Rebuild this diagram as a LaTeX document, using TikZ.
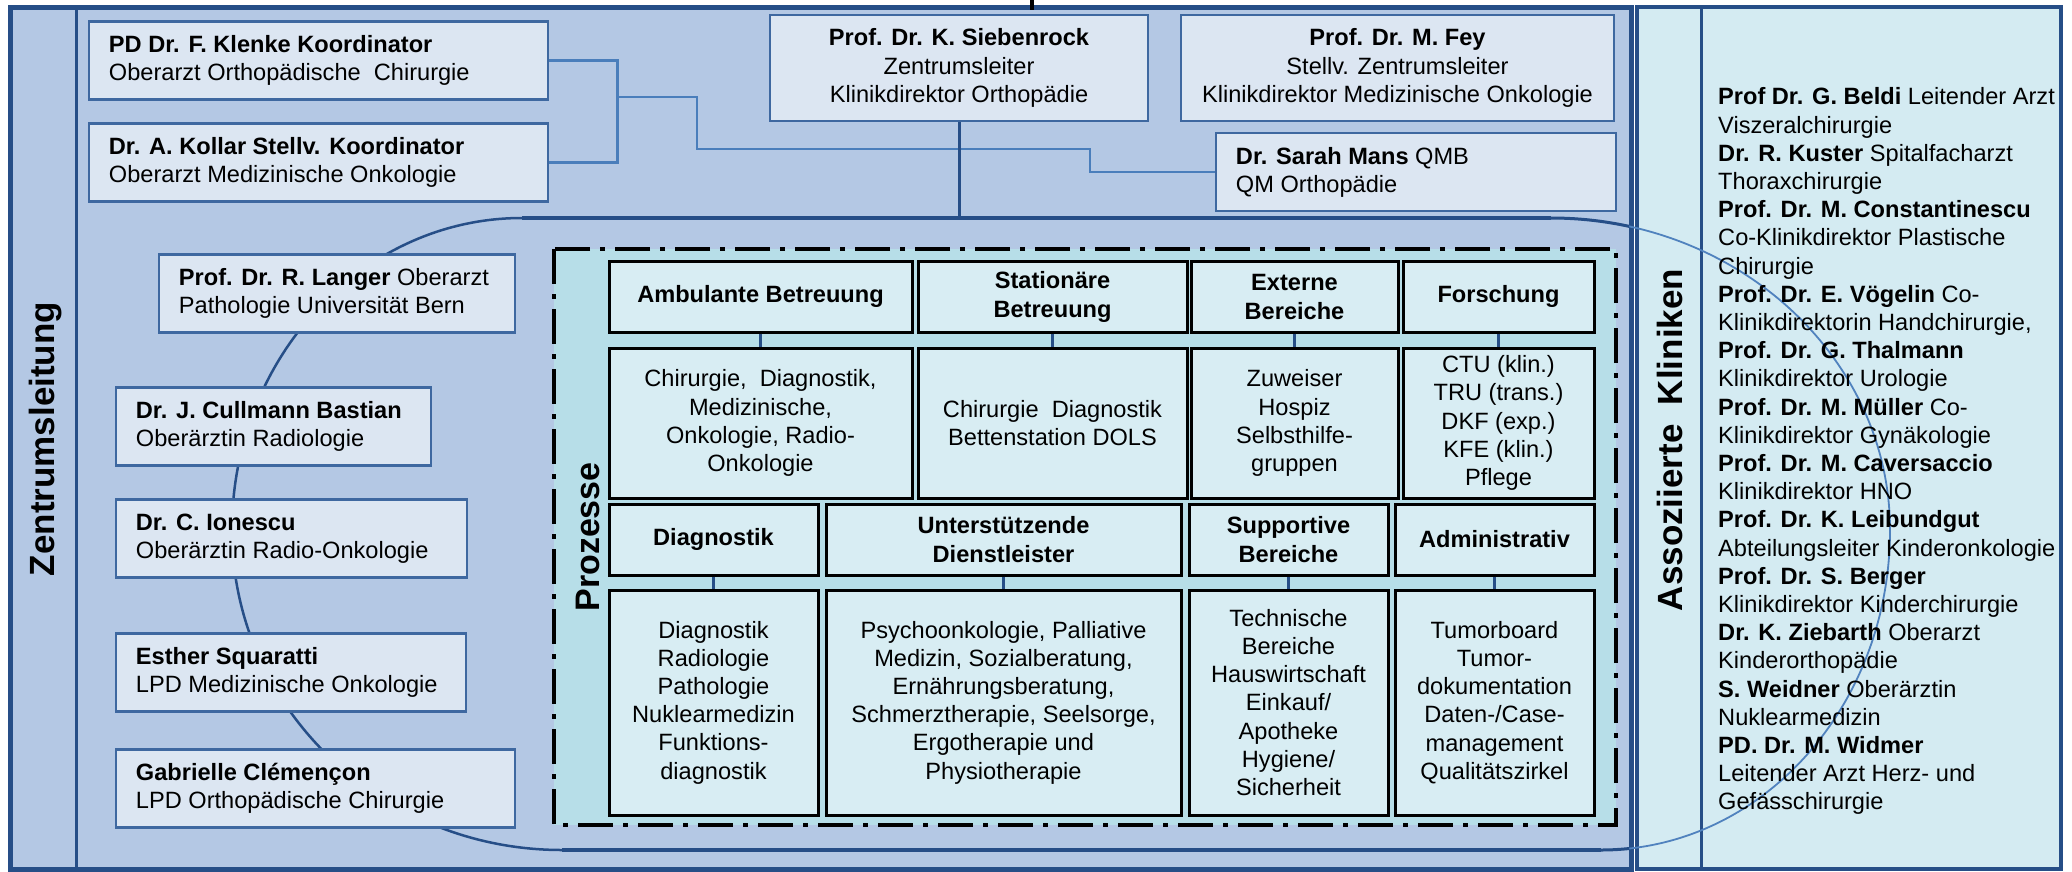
\documentclass[tikz,border=0pt]{standalone}
\usepackage{fontspec}
\setmainfont{Liberation Sans}
\definecolor{panelL}{RGB}{180,200,228}
\definecolor{panelR}{RGB}{212,235,242}
\definecolor{dkblue}{RGB}{38,78,135}
\definecolor{boxfill}{RGB}{220,230,242}
\definecolor{boxline}{RGB}{62,104,160}
\definecolor{connblue}{RGB}{74,126,187}
\definecolor{procfill}{RGB}{183,222,232}
\definecolor{gridfill}{RGB}{216,237,243}
\definecolor{arcblue}{RGB}{80,130,190}
\begin{document}
\begin{tikzpicture}[x=1pt,y=-1pt,
  every node/.style={font=\fontsize{23.6}{28.2}\selectfont},
  pbox/.style={draw=boxline, fill=boxfill, line width=2.5, inner sep=0, minimum height=78},
  ptext/.style={anchor=west, align=left, inner sep=0},
  cbox/.style={draw=boxline, fill=boxfill, line width=2.5, inner sep=0, align=center, minimum height=106},
  gbox/.style={draw=black, fill=gridfill, line width=3, inner sep=0, align=center},
  hdr/.style={gbox, minimum height=71, font=\fontsize{23.6}{29}\selectfont\bfseries},
  conn/.style={draw=connblue, line width=2.5},
  tickline/.style={draw=dkblue, line width=3},
  vtitle/.style={rotate=90, font=\fontsize{35}{40}\selectfont\bfseries, inner sep=0}
]
\useasboundingbox (0,0) rectangle (2072,871);
\fill[white] (0,0) rectangle (2072,871);
% panels
\draw[dkblue, line width=5, fill=panelL] (10.5,7) rectangle (1631,869);
\draw[dkblue, line width=4, fill=panelR] (1637,7) rectangle (2061,869);
\draw[dkblue, line width=3] (76,7) -- (76,869);
\draw[dkblue, line width=3] (1701,7) -- (1701,869);
% top tick
\coordinate (tkA) at (1032,0);
\coordinate (tkB) at (1032,10);
\draw[black, line width=4] (tkA) -- (tkB);
% process frame fill
\fill[procfill] (554,249) rectangle (1616,825);
% big rounded shape
\draw[dkblue, line width=3.5] (1551,218) -- (522,218);
\draw[dkblue, line width=2.5] (522,218) .. controls (362,218) and (232,358) .. (232,530)
   .. controls (232,707) and (380,850) .. (562,850);
\draw[dkblue, line width=3.5] (562,850) -- (1601,850);
\draw[arcblue, line width=1.8] (1551,218) .. controls (1738,218) and (1890,358) .. (1890,530)
   .. controls (1890,707) and (1761,850) .. (1601,850);
\begin{scope}
\clip (0,0) rectangle (1629,871);
\draw[dkblue, line width=3] (1551,218) .. controls (1738,218) and (1890,358) .. (1890,530)
   .. controls (1890,707) and (1761,850) .. (1601,850);
\end{scope}
\coordinate (topline) at (965,218);
% process frame border
\draw[black, line width=4.5, dash pattern=on 35 off 10 on 5 off 10] (554,249) rectangle (1616,825);

% titles
\node[vtitle] (zl) at (46,439) {Zentrumsleitung};
\node[vtitle] (ak) at (1670,440) {Assoziierte\ \ Kliniken};
\node[vtitle, font=\fontsize{34}{40}\selectfont\bfseries] (pz) at (588,537) {Prozesse};

% left panel boxes
\node[pbox, minimum width=459] (klenke) at (318.5,60.5) {};
\node[ptext] (klenkeT) at ([xshift=21]klenke.west) {\textbf{PD Dr. F. Klenke Koordinator}\\Oberarzt Orthopädische~ Chirurgie};
\node[pbox, minimum width=459] (kollar) at (318.5,162.5) {};
\node[ptext] (kollarT) at ([xshift=21]kollar.west) {\textbf{Dr. A. Kollar Stellv. Koordinator}\\Oberarzt Medizinische Onkologie};
\node[cbox, minimum width=378] (sieb) at (959,68) {\textbf{Prof. Dr. K. Siebenrock}\\Zentrumsleiter\\Klinikdirektor Orthopädie};
\node[cbox, minimum width=433] (fey) at (1397.5,68) {\textbf{Prof. Dr. M. Fey}\\Stellv. Zentrumsleiter\\Klinikdirektor Medizinische Onkologie};
\node[pbox, minimum width=400] (mans) at (1416,172) {};
\node[ptext] (mansT) at ([xshift=21]mans.west) {\textbf{Dr. Sarah Mans} QMB\\QM Orthopädie};
\node[pbox, minimum width=356] (langer) at (337,293.5) {};
\node[ptext] (langerT) at ([xshift=21]langer.west) {\textbf{Prof. Dr. R. Langer} Oberarzt\\Pathologie Universität Bern};
\node[pbox, minimum width=315] (cullmann) at (273.5,426.5) {};
\node[ptext] (cullmannT) at ([xshift=21]cullmann.west) {\textbf{Dr. J. Cullmann Bastian}\\Oberärztin Radiologie};
\node[pbox, minimum width=351] (ionescu) at (291.5,538.5) {};
\node[ptext] (ionescuT) at ([xshift=21]ionescu.west) {\textbf{Dr. C. Ionescu}\\Oberärztin Radio-Onkologie};
\node[pbox, minimum width=350] (squaratti) at (291,672.5) {};
\node[ptext] (squarattiT) at ([xshift=21]squaratti.west) {\textbf{Esther Squaratti}\\LPD Medizinische Onkologie};
\node[pbox, minimum width=399] (clem) at (315.5,788.5) {};
\node[ptext] (clemT) at ([xshift=21]clem.west) {\textbf{Gabrielle Clémençon}\\LPD Orthopädische Chirurgie};

% connectors
\draw[conn] (klenke.east) -- ++(68,0) |- (kollar.east);
\coordinate (j1) at (616,97);
\draw[conn] (j1) -- (697,97) -- (697,149) -- (1090,149) |- (mans.west);
\draw[dkblue, line width=3] (sieb.south) -- (sieb.south |- topline);

% process grid
\node[hdr, minimum width=303] (h1) at (760.5,296.5) {Ambulante Betreuung};
\node[hdr, minimum width=269] (h2) at (1052.5,296.5) {Stationäre\\Betreuung};
\node[hdr, minimum width=207] (h3) at (1294.5,296.5) {Externe\\Bereiche};
\node[hdr, minimum width=191] (h4) at (1498.5,296.5) {Forschung};
\node[gbox, minimum width=303, minimum height=150] (c1) at (760.5,423) {Chirurgie,~ Diagnostik,\\Medizinische,\\Onkologie, Radio-\\Onkologie};
\node[gbox, minimum width=269, minimum height=150] (c2) at (1052.5,423) {Chirurgie~ Diagnostik\\Bettenstation DOLS};
\node[gbox, minimum width=207, minimum height=150] (c3) at (1294.5,423) {Zuweiser\\Hospiz\\Selbsthilfe-\\gruppen};
\node[gbox, minimum width=191, minimum height=150] (c4) at (1498.5,423) {CTU (klin.)\\TRU (trans.)\\DKF (exp.)\\KFE (klin.)\\Pflege};
\node[hdr, minimum width=209] (h5) at (713.5,539.5) {Diagnostik};
\node[hdr, minimum width=355] (h6) at (1003.5,539.5) {Unterstützende\\Dienstleister};
\node[hdr, minimum width=199] (h7) at (1288.5,539.5) {Supportive\\Bereiche};
\node[hdr, minimum width=199] (h8) at (1494.5,539.5) {Administrativ};
\node[gbox, minimum width=209, minimum height=225] (c5) at (713.5,702.5) {Diagnostik\\Radiologie\\Pathologie\\Nuklearmedizin\\Funktions-\\diagnostik};
\node[gbox, minimum width=355, minimum height=225] (c6) at (1003.5,702.5) {Psychoonkologie, Palliative\\Medizin, Sozialberatung,\\Ernährungsberatung,\\Schmerztherapie, Seelsorge,\\Ergotherapie und\\Physiotherapie};
\node[gbox, minimum width=199, minimum height=225] (c7) at (1288.5,702.5) {Technische\\Bereiche\\Hauswirtschaft\\Einkauf/\\Apotheke\\Hygiene/\\Sicherheit};
\node[gbox, minimum width=199, minimum height=225] (c8) at (1494.5,702.5) {Tumorboard\\Tumor-\\dokumentation\\Daten-/Case-\\management\\Qualitätszirkel};
\foreach \i in {1,...,8} {\draw[tickline] (h\i.south) -- (c\i.north);}

% right list
\node[anchor=north west, align=left, inner sep=0] (assoc) at (1718,87.5) {%
\textbf{Prof Dr. G. Beldi} Leitender Arzt\\
Viszeralchirurgie\\
\textbf{Dr. R. Kuster} Spitalfacharzt\\
Thoraxchirurgie\\
\textbf{Prof. Dr. M. Constantinescu}\\
Co-Klinikdirektor Plastische\\
Chirurgie\\
\textbf{Prof. Dr. E. Vögelin} Co-\\
Klinikdirektorin Handchirurgie,\\
\textbf{Prof. Dr. G. Thalmann}\\
Klinikdirektor Urologie\\
\textbf{Prof. Dr. M. Müller} Co-\\
Klinikdirektor Gynäkologie\\
\textbf{Prof. Dr. M. Caversaccio}\\
Klinikdirektor HNO\\
\textbf{Prof. Dr. K. Leibundgut}\\
Abteilungsleiter Kinderonkologie\\
\textbf{Prof. Dr. S. Berger}\\
Klinikdirektor Kinderchirurgie\\
\textbf{Dr. K. Ziebarth} Oberarzt\\
Kinderorthopädie\\
\textbf{S. Weidner} Oberärztin\\
Nuklearmedizin\\
\textbf{PD. Dr. M. Widmer}\\
Leitender Arzt Herz- und\\
Gefässchirurgie};
\end{tikzpicture}
\end{document}
